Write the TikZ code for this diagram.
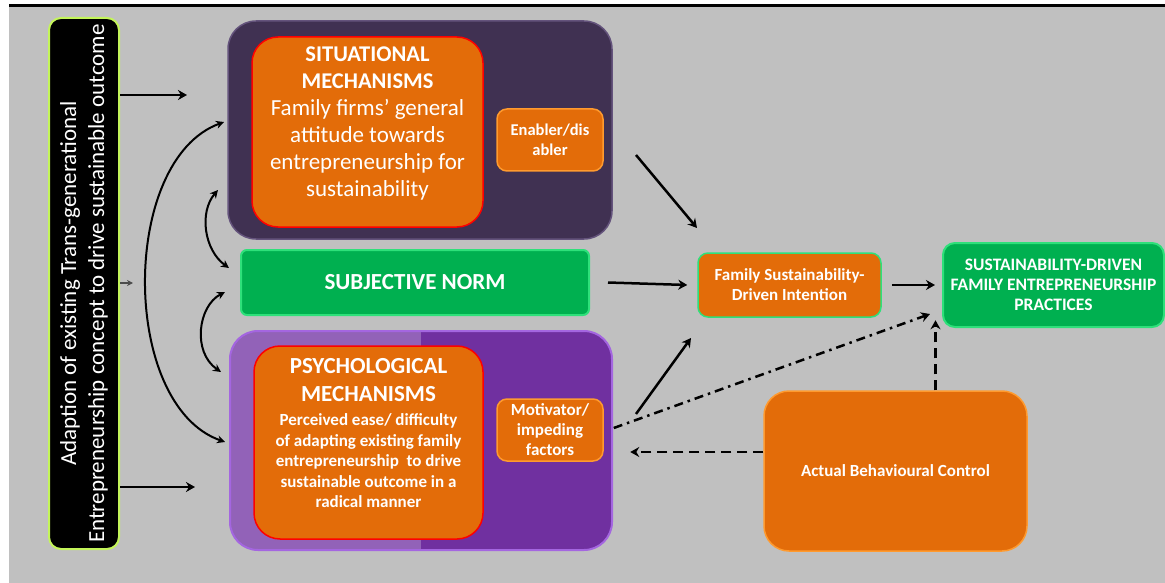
\documentclass[tikz,border=0pt]{standalone}
\usepackage{fontspec}
\setmainfont{Carlito}
\usetikzlibrary{arrows.meta}
\definecolor{bggray}{HTML}{C0C0C0}
\definecolor{sitfill}{HTML}{403152}
\definecolor{sitedge}{HTML}{64537C}
\definecolor{orangefill}{HTML}{E36C09}
\definecolor{orangeedge}{HTML}{FF9A2E}
\definecolor{normfill}{HTML}{00B050}
\definecolor{normedge}{HTML}{2EE07A}
\definecolor{psyfill}{HTML}{7030A0}
\definecolor{psylight}{HTML}{9262B8}
\definecolor{psyedge}{HTML}{A466E0}
\definecolor{limeedge}{HTML}{C4F55A}

\begin{document}
\begin{tikzpicture}[x=1pt,y=-1pt,
    lbl/.style={text=white,align=center,inner sep=0pt},
    orng/.style={draw=orangeedge,line width=1.5pt,fill=orangefill,rounded corners=10pt},
    tag/.style={orng,lbl,font=\bfseries\fontsize{17}{20}\selectfont},
    arr/.style={line width=2.5pt,-{Stealth[length=9pt,width=10pt]}},
    twoway/.style={line width=2pt,{Stealth[length=8pt,width=8pt]}-{Stealth[length=8pt,width=8pt]}}]
  \useasboundingbox (0,0) rectangle (1165,583);
  \fill[bggray] (9,7) rectangle (1165,583);
  \fill[black] (9,4) rectangle (1165,7);

  % left column
  \node[draw=limeedge,line width=2pt,fill=black,rounded corners=12pt,rotate=90,
        minimum width=531pt,minimum height=70pt,lbl,font=\fontsize{23}{28}\selectfont]
        (adapt) at (84,283.5) {Adaption of existing Trans-generational\\Entrepreneurship concept to drive sustainable outcome};

  % situational block
  \node[draw=sitedge,line width=1.5pt,fill=sitfill,rounded corners=28pt,minimum width=384pt,minimum height=218pt] (sit) at (420,130) {};
  \node[draw=red,line width=1.5pt,fill=orangefill,rounded corners=26pt,minimum width=231pt,minimum height=190pt] (sitcore) at (367.5,132) {};
  \node[lbl,font=\bfseries\fontsize{22.5}{27}\selectfont] (sittitle) at (367.5,68) {SITUATIONAL\\MECHANISMS};
  \node[lbl,font=\fontsize{23}{27}\selectfont] (sittext) at (367.5,150) {Family firms’ general\\attitude towards\\entrepreneurship for\\sustainability};
  \node[tag,minimum width=106pt,minimum height=62pt,font=\bfseries\fontsize{16.5}{20}\selectfont] (enab) at (550,140) {Enabler/dis\\abler};

  % subjective norm
  \node[draw=normedge,line width=2pt,fill=normfill,rounded corners=6pt,minimum width=348pt,minimum height=65pt,
        lbl,font=\bfseries\fontsize{23}{26}\selectfont] (norm) at (415,282.5) {SUBJECTIVE NORM};

  % psychological block
  \node[draw=psyedge,line width=2pt,fill=psyfill,rounded corners=28pt,minimum width=382pt,minimum height=219pt,
        path picture={\fill[psylight,sharp corners] (path picture bounding box.north west) rectangle (path picture bounding box.south);}]
        (psy) at (421,440.5) {};
  \node[draw=red,line width=1.5pt,fill=orangefill,rounded corners=26pt,minimum width=229pt,minimum height=193pt] (psycore) at (368.5,442.5) {};
  \node[lbl,font=\bfseries\fontsize{23}{28}\selectfont] (psytitle) at (368.5,380) {PSYCHOLOGICAL\\MECHANISMS};
  \node[lbl,font=\bfseries\fontsize{17}{20.5}\selectfont] (psytext) at (368.5,461) {Perceived ease/ difficulty\\of adapting existing family\\entrepreneurship\ \ to drive\\sustainable outcome in a\\radical manner};
  \node[tag,minimum width=106pt,minimum height=62pt] (motiv) at (550,430) {Motivator/\\impeding\\factors};

  % right side
  \node[tag,draw=normedge,minimum width=183pt,minimum height=64pt] (intent) at (789.5,285) {Family Sustainability-\\Driven Intention};
  \node[draw=normedge,line width=2pt,fill=normfill,rounded corners=12pt,minimum width=221pt,minimum height=84pt,
        lbl,font=\bfseries\fontsize{17.5}{20}\selectfont] (pract) at (1053.5,285) {SUSTAINABILITY-DRIVEN\\FAMILY ENTREPRENEURSHIP\\PRACTICES};
  \node[tag,rounded corners=25pt,minimum width=263pt,minimum height=160pt] (abc) at (895.5,471) {Actual Behavioural Control};

  % connectors from the left column
  \coordinate (sitin) at (187,95);
  \coordinate (normin) at (133,283);
  \coordinate (psyin) at (195,487);
  \draw[arr] (adapt.south |- sitin) -- (sitin);
  \draw[line width=1.5pt,-{Stealth[length=6pt,width=6pt]},black!70] (adapt.south |- normin) -- (normin);
  \draw[arr] (adapt.south |- psyin) -- (psyin);

  % two-way links
  \coordinate (bigtop) at (224,122);
  \coordinate (bigbot) at (225,442);
  \coordinate (uptop) at (218,190);
  \coordinate (upbot) at (229,268);
  \coordinate (lowtop) at (225,292);
  \coordinate (lowbot) at (221,372);
  \draw[twoway] (bigtop) .. controls (120,160) and (120,405) .. (bigbot);
  \draw[twoway] (uptop) .. controls (199,212) and (204,250) .. (upbot);
  \draw[twoway] (lowtop) .. controls (198,306) and (192,352) .. (lowbot);

  % connectors on the right
  \coordinate (sitout) at (636,155);
  \coordinate (intin) at (697,228);
  \coordinate (motout) at (636,414);
  \coordinate (intlow) at (691,338);
  \draw[arr] (sitout) -- (intin);
  \draw[arr] ([xshift=18pt]norm.east) -- ([xshift=-10pt]intent.west);
  \draw[arr] ([xshift=10pt]intent.east) -- ([xshift=-7pt]pract.west);
  \draw[arr] (motout) -- (intlow);
  \draw[line width=2.5pt,dash pattern=on 9pt off 5pt on 2.5pt off 5pt,-{Stealth[length=9pt,width=10pt]}]
        ([xshift=10pt,yshift=2pt]motiv.east) -- ([shift={(-12,-14)}]pract.south west);
  \draw[line width=2.5pt,dash pattern=on 10pt off 6pt,-{Stealth[length=9pt,width=10pt]}]
        ([xshift=40pt]abc.north) -- ++(0,-70);
  \draw[line width=2.5pt,dash pattern=on 10pt off 6pt,-{Stealth[length=9pt,width=10pt]}]
        ([yshift=19pt]abc.west) -- ++(-133,0);
\end{tikzpicture}
\end{document}
